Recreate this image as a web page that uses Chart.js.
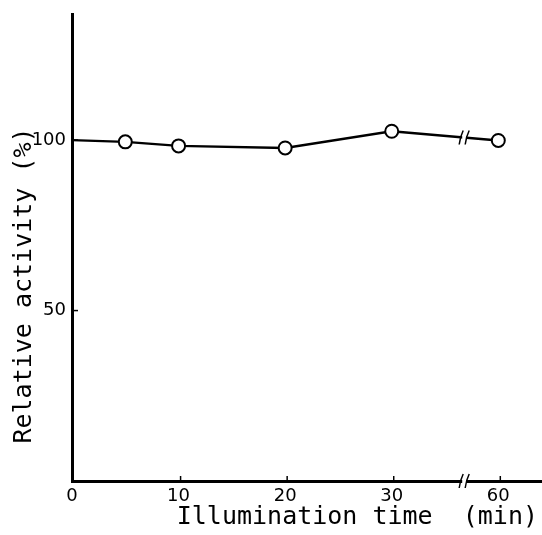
<!DOCTYPE html>
<html>
<head>
<meta charset="utf-8">
<script src="https://cdn.jsdelivr.net/npm/chart.js@4"></script>
<style>
  body { margin: 0; background: #fff; }
</style>
</head>
<body>
<canvas id="myChart" width="542" height="535"></canvas>
<script>
// data
const times    = [0, 5, 10, 20, 30, 60];
const activity = [100, 99.5, 98.3, 97.7, 102.6, 99.9];
const xTicks   = [0, 10, 20, 30, 60];
const yTicks   = [50, 100];

// axis is broken between 30 and 60 min
const breakAt = 36.8;
const axisPos = t => (t > 30 ? t - 20 : t);

const extras = {
  id: 'extras',
  afterDatasetsDraw(chart) {
    const { ctx, chartArea, scales: { x, y } } = chart;
    ctx.save();
    ctx.strokeStyle = '#000';
    ctx.lineWidth = 1.5;

    // small ticks inside the axes
    xTicks.slice(1).forEach(t => {
      const px = x.getPixelForValue(axisPos(t)) + 2;
      ctx.beginPath();
      ctx.moveTo(px, chartArea.bottom);
      ctx.lineTo(px, chartArea.bottom - 5);
      ctx.stroke();
    });
    yTicks.forEach(v => {
      const py = y.getPixelForValue(v);
      ctx.beginPath();
      ctx.moveTo(chartArea.left, py);
      ctx.lineTo(chartArea.left + 6, py);
      ctx.stroke();
    });

    // break marks on the data line and on the x axis
    const pts = chart.getDatasetMeta(0).data;
    const a = pts[pts.length - 2], b = pts[pts.length - 1];
    const bx = x.getPixelForValue(breakAt);
    const ly = a.y + (b.y - a.y) * (bx - a.x) / (b.x - a.x);
    [[bx, ly], [bx, chartArea.bottom]].forEach(([px, py]) => {
      ctx.fillStyle = '#fff';
      ctx.fillRect(px - 2, py - 3, 4, 6);
      [-3, 3].forEach(dx => {
        ctx.beginPath();
        ctx.moveTo(px + dx - 2, py + 7);
        ctx.quadraticCurveTo(px + dx - 1, py - 1, px + dx + 2, py - 7);
        ctx.stroke();
      });
    });

    // axis titles
    ctx.fillStyle = '#000';
    ctx.font = '25px "DejaVu Sans Mono"';
    ctx.textAlign = 'right';
    ctx.textBaseline = 'alphabetic';
    ctx.fillText('Illumination time  (min)', chartArea.right - 4, chartArea.bottom + 43);

    ctx.translate(chartArea.left - 41, (chartArea.top + chartArea.bottom) / 2 + 38);
    ctx.rotate(-Math.PI / 2);
    ctx.textAlign = 'center';
    ctx.fillText('Relative activity (%)', 0, 0);
    ctx.restore();
  }
};

var ctx = document.getElementById('myChart').getContext('2d');
var myChart = new Chart(ctx, {
  type: 'line',
  data: {
    datasets: [{
      data: times.map((t, i) => ({ x: axisPos(t), y: activity[i] })),
      borderColor: '#000',
      borderWidth: 2.4,
      backgroundColor: '#fff',
      pointBackgroundColor: '#fff',
      pointBorderColor: '#000',
      pointBorderWidth: 2,
      pointRadius: times.map(t => (t === 0 ? 0 : 6.5)),
      tension: 0
    }]
  },
  options: {
    responsive: false,
    animation: false,
    events: [],
    layout: { autoPadding: false, padding: { top: 14, right: 0, left: 0, bottom: 0 } },
    plugins: { legend: { display: false }, tooltip: { enabled: false } },
    scales: {
      x: {
        type: 'linear',
        min: 0,
        max: 44.1,
        grid: { display: false, drawTicks: false },
        border: { display: true, color: '#000', width: 3 },
        afterBuildTicks: s => { s.ticks = xTicks.map(t => ({ value: axisPos(t) })); },
        afterFit: s => { s.height = 54; s.paddingLeft = 0; s.paddingRight = 0; },
        ticks: {
          padding: 5,
          color: '#000',
          font: { family: 'DejaVu Sans', size: 18 },
          maxRotation: 0,
          callback: (v, i) => String(xTicks[i])
        }
      },
      y: {
        min: 0,
        max: 137,
        grid: { display: false, drawTicks: false },
        border: { display: true, color: '#000', width: 3 },
        afterBuildTicks: s => { s.ticks = yTicks.map(v => ({ value: v })); },
        afterFit: s => { s.width = 72; s.paddingTop = 0; s.paddingBottom = 0; },
        ticks: {
          padding: 6,
          color: '#000',
          font: { family: 'DejaVu Sans', size: 18 }
        }
      }
    }
  },
  plugins: [extras]
});
</script>
</body>
</html>
